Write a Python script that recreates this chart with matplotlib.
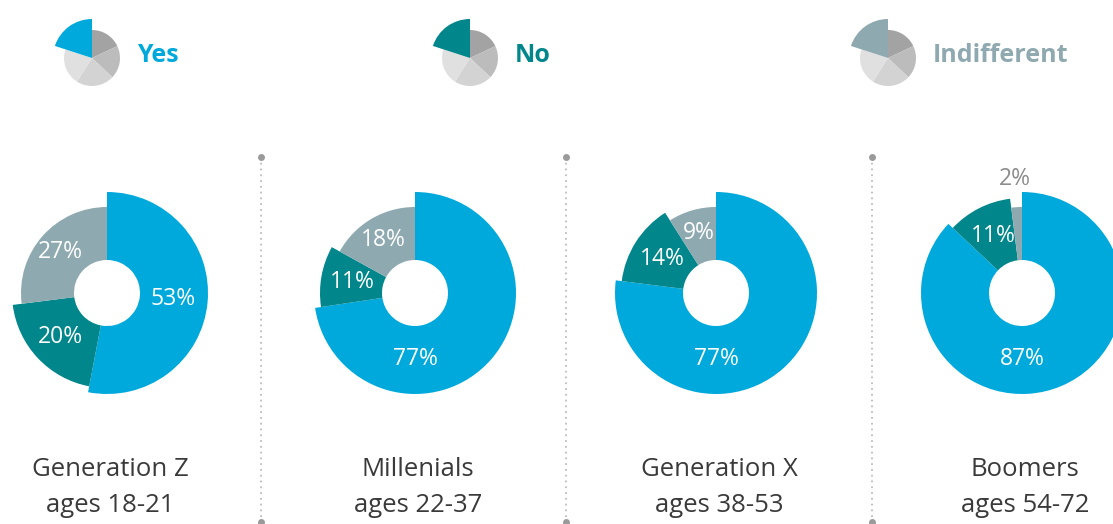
import matplotlib
matplotlib.use("Agg")
import matplotlib.pyplot as plt
import numpy as np

# ---------------- data ----------------
groups = ["Generation Z", "Millenials", "Generation X", "Boomers"]
ages = ["ages 18-21", "ages 22-37", "ages 38-53", "ages 54-72"]
answers = ["Yes", "No", "Indifferent"]
yes = [53, 77, 77, 87]
no = [20, 11, 14, 11]
indifferent = [27, 18, 9, 2]

# ---------------- style / layout ----------------
W, H = 1113, 524
COLORS = {"Yes": "#00a9dc", "No": "#00868b", "Indifferent": "#8fa9b1"}
RADIUS = {"Yes": 101, "No": 95, "Indifferent": 86}
HOLE = 33
CENTERS_X = [107, 415, 716, 1022]
CY = 293
LABEL_DIST = {"Yes": 66, "No": 64, "Indifferent": 62}
YES_LABEL_DOWN = [False, True, True, True]
SEP_X = [261, 566, 872]
LEG_ICON_X = [92, 470, 888]
LEG_TEXT_X = [137, 515, 933]
LEG_Y = 56
ICON_GRAYS = ["#a3a3a3", "#bcbcbc", "#d3d3d3", "#e0e0e0"]
ICON_SHARES = [18, 19, 22, 21, 20]
FONT = ["Open Sans", "DejaVu Sans"]

plt.rcParams["font.family"] = FONT


def Y(py):
    return H - py


fig = plt.figure(figsize=(W / 100, H / 100), dpi=100)
ax = fig.add_axes([0, 0, 1, 1])

# ---------------- legend ----------------
for ans, ix, tx in zip(answers, LEG_ICON_X, LEG_TEXT_X):
    wedges, _ = ax.pie(ICON_SHARES, colors=ICON_GRAYS + [COLORS[ans]],
                       startangle=90, counterclock=False,
                       center=(ix, Y(LEG_Y + 2)), radius=28,
                       wedgeprops=dict(linewidth=0))
    wedges[-1].set_radius(39)
    wedges[-1].set_zorder(3)
    ax.text(tx, Y(LEG_Y), ans, color=COLORS[ans], fontsize=18,
            fontweight="bold", ha="left", va="center")

# ---------------- donuts ----------------
for k in range(len(groups)):
    vals = [yes[k], no[k], indifferent[k]]
    cx, cy = CENTERS_X[k], Y(CY)
    wedges, _ = ax.pie(vals, colors=[COLORS[a] for a in answers],
                       startangle=90, counterclock=False,
                       center=(cx, cy), radius=1,
                       wedgeprops=dict(linewidth=0))
    for w, a, v in zip(wedges, answers, vals):
        r = RADIUS[a]
        w.set_radius(r)
        w.set_width(r - HOLE)
        mid = np.deg2rad((w.theta1 + w.theta2) / 2)
        if a == "Yes" and YES_LABEL_DOWN[k]:
            mid = np.deg2rad(-90)
        if v < 5:
            d = 114
            col = "#8c8c8c"
        else:
            d = LABEL_DIST[a]
            col = "white"
        ax.text(cx + d * np.cos(mid), cy + d * np.sin(mid), f"{v}%",
                color=col, fontsize=16.5, ha="center", va="center")
    ax.text(cx + 3, Y(470), groups[k], color="#3a3a3a", fontsize=18.5,
            ha="center", va="center")
    ax.text(cx + 3, Y(505), ages[k], color="#3a3a3a", fontsize=18.5,
            ha="center", va="center")

# ---------------- separators ----------------
for sx in SEP_X:
    ax.plot([sx, sx], [Y(157), Y(522)], linestyle=(0, (1, 2.2)),
            color="#bdbdbd", linewidth=1.3)
    ax.plot([sx, sx], [Y(157), Y(522)], "o", color="#9a9a9a",
            markersize=5, markeredgewidth=0)

ax.set_xlim(0, W)
ax.set_ylim(0, H)
ax.set_aspect("equal")
ax.axis("off")
fig.savefig("out.png", dpi=100, facecolor="white")
